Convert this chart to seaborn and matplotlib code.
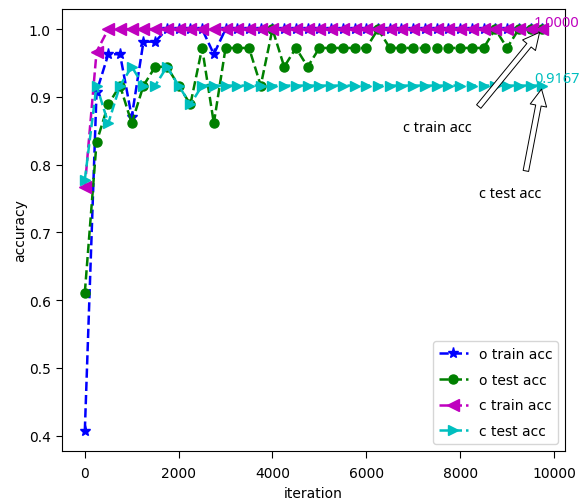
import matplotlib
matplotlib.use('Agg')
import matplotlib.pyplot as plt
import seaborn as sns

# iterations (every 250 steps)
iters = list(range(0, 10000, 250))

o_train = [0.4074, 0.9074, 0.9630, 0.9630, 0.8704, 0.9815, 0.9815, 1.0,
           1.0, 1.0, 1.0, 0.9630] + [1.0] * 28
o_test = [0.6111, 0.8333, 0.8889, 0.9167, 0.8611, 0.9167, 0.9444, 0.9444,
          0.9167, 0.8889, 0.9722, 0.8611, 0.9722, 0.9722, 0.9722, 0.9167,
          1.0, 0.9444, 0.9722, 0.9444] + [0.9722] * 5 + [1.0] + [0.9722] * 9 \
         + [1.0, 0.9722, 1.0, 1.0, 1.0]
c_train = [0.7667, 0.9667] + [1.0] * 38
c_test = [0.7778, 0.9167, 0.8611, 0.9167, 0.9444, 0.9167, 0.9167, 0.9444,
          0.9167, 0.8889] + [0.9167] * 30

series = [
    (o_train, 'o train acc', 'b', '*', 8),
    (o_test, 'o test acc', 'g', 'o', 6.5),
    (c_train, 'c train acc', 'm', '<', 8),
    (c_test, 'c test acc', 'c', '>', 7),
]

fig = plt.figure(figsize=(5.79, 5.02), dpi=100)
ax = fig.add_subplot(111)
fig.subplots_adjust(left=0.107, right=0.976, top=0.98, bottom=0.1)

for vals, name, col, mk, ms in series:
    sns.lineplot(x=iters, y=vals, ax=ax, label=name, color=col, marker=mk,
                 linestyle='--', markersize=ms, markeredgecolor=col,
                 markeredgewidth=1, linewidth=1.8)

ax.set_xlabel('iteration', labelpad=4)
ax.set_ylabel('accuracy', labelpad=1)
ax.tick_params(axis='x', length=5, pad=6)
ax.tick_params(axis='y', length=4.5)
ax.legend(loc='lower right', labelspacing=0.85, handlelength=2.1)

ann_font = dict(family='Noto Sans', fontsize=10.5)

# final values
ax.text(iters[-1] - 175, c_train[-1] + 0.0045, '%.4f' % c_train[-1],
        color='m', **ann_font)
ax.text(iters[-1] - 175, c_test[-1] + 0.005, '%.4f' % c_test[-1],
        color='c', **ann_font)

# arrows pointing to the last points
arrow = dict(facecolor='white', edgecolor='black', linewidth=0.7, shrink=0.04)
ax.annotate('', xy=(iters[-1], c_train[-1]), xytext=(8340, 0.881),
            arrowprops=arrow)
ax.annotate('', xy=(iters[-1], c_test[-1]), xytext=(9387, 0.7855),
            arrowprops=arrow)
ax.text(6790, 0.85, 'c train acc', **ann_font)
ax.text(8410, 0.752, 'c test acc', **ann_font)

fig.savefig('out.png', dpi=100)
